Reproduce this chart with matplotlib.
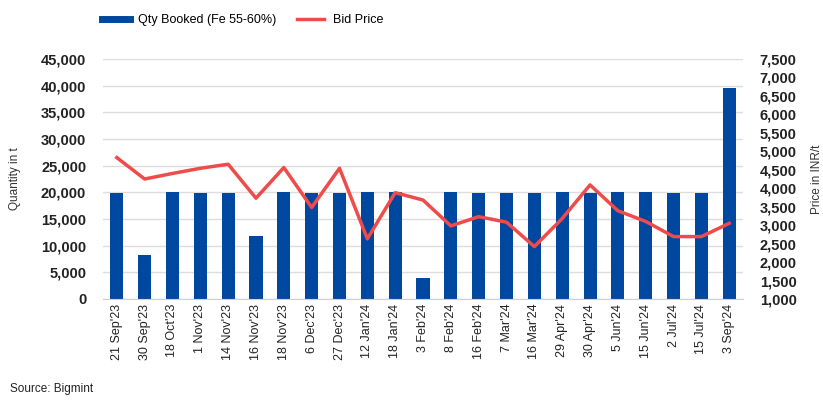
import matplotlib.pyplot as plt
from matplotlib.lines import Line2D
from matplotlib.ticker import FuncFormatter

plt.rcParams['font.family'] = ['Liberation Sans', 'DejaVu Sans']

dates = ["21 Sep'23", "30 Sep'23", "18 Oct'23", "1 Nov'23", "14 Nov'23", "16 Nov'23",
         "18 Nov'23", "6 Dec'23", "27 Dec'23", "12 Jan'24", "18 Jan'24", "3 Feb'24",
         "8 Feb'24", "16 Feb'24", "7 Mar'24", "16 Mar'24", "29 Apr'24", "30 Apr'24",
         "5 Jun'24", "15 Jun'24", "2 Jul'24", "15 Jul'24", "3 Sep'24"]
qty = [19800, 8200, 20000, 19800, 19800, 11800, 20000, 19800, 19800, 20000, 20000, 4000,
       20000, 19800, 19800, 19800, 20000, 19800, 20000, 20000, 19800, 19800, 39500]
price = [4830, 4250, 4400, 4540, 4650, 3730, 4560, 3480, 4540, 2630, 3880, 3680,
         2980, 3230, 3080, 2420, 3180, 4090, 3390, 3100, 2690, 2690, 3050]

BLUE = "#0047A0"
RED = "#EF4B4B"
fmt = FuncFormatter(lambda v, p: f"{v:,.0f}")

fig = plt.figure(figsize=(8.23, 4.0), dpi=100)
ax = fig.add_axes([0.125, 0.2525, 0.778, 0.6])
ax2 = ax.twinx()

x = range(len(dates))
ax.bar(x, qty, width=0.47, color=BLUE, zorder=2)
ax2.plot(x, price, color=RED, linewidth=2.5, zorder=3)

ax.set_ylim(0, 45000)
ax.set_yticks(range(0, 45001, 5000))
ax.yaxis.set_major_formatter(fmt)
ax2.set_ylim(1000, 7500)
ax2.set_yticks(range(1000, 7501, 500))
ax2.yaxis.set_major_formatter(fmt)
ax.set_xlim(-0.5, len(dates) - 0.5)

ax.set_xticks(list(x))
ax.set_xticklabels(dates, rotation=90, fontsize=9, color="#222222")
ax.grid(axis="y", color="#dddddd", linewidth=1, zorder=0)
ax.set_axisbelow(True)

for a in (ax, ax2):
    for s in a.spines.values():
        s.set_visible(False)
    a.tick_params(length=0)
ax.spines["bottom"].set_visible(True)
ax.spines["bottom"].set_color("#d0d0d0")

for lab in ax.get_yticklabels() + ax2.get_yticklabels():
    lab.set_fontweight("bold")
    lab.set_fontsize(10.5)
    lab.set_color("#222222")
ax.tick_params(axis="y", pad=12)
ax2.tick_params(axis="y", pad=12)

ax.set_ylabel("Quantity in t", fontsize=8.5, color="#333333", labelpad=14)
ax2.set_ylabel("Price in INR/t", fontsize=8.5, color="#333333", labelpad=10)

handles = [Line2D([], [], color=BLUE, linewidth=5),
           Line2D([], [], color=RED, linewidth=2.5)]
fig.legend(handles, ["Qty Booked (Fe 55-60%)", "Bid Price"], loc="center",
           bbox_to_anchor=(0.295, 0.95), ncol=2, frameon=False, fontsize=9,
           handlelength=2.2, columnspacing=1.6, handletextpad=0.7)

fig.text(0.012, 0.02, "Source: Bigmint", fontsize=8.5, color="#222222")

fig.savefig("out.png", dpi=100)
